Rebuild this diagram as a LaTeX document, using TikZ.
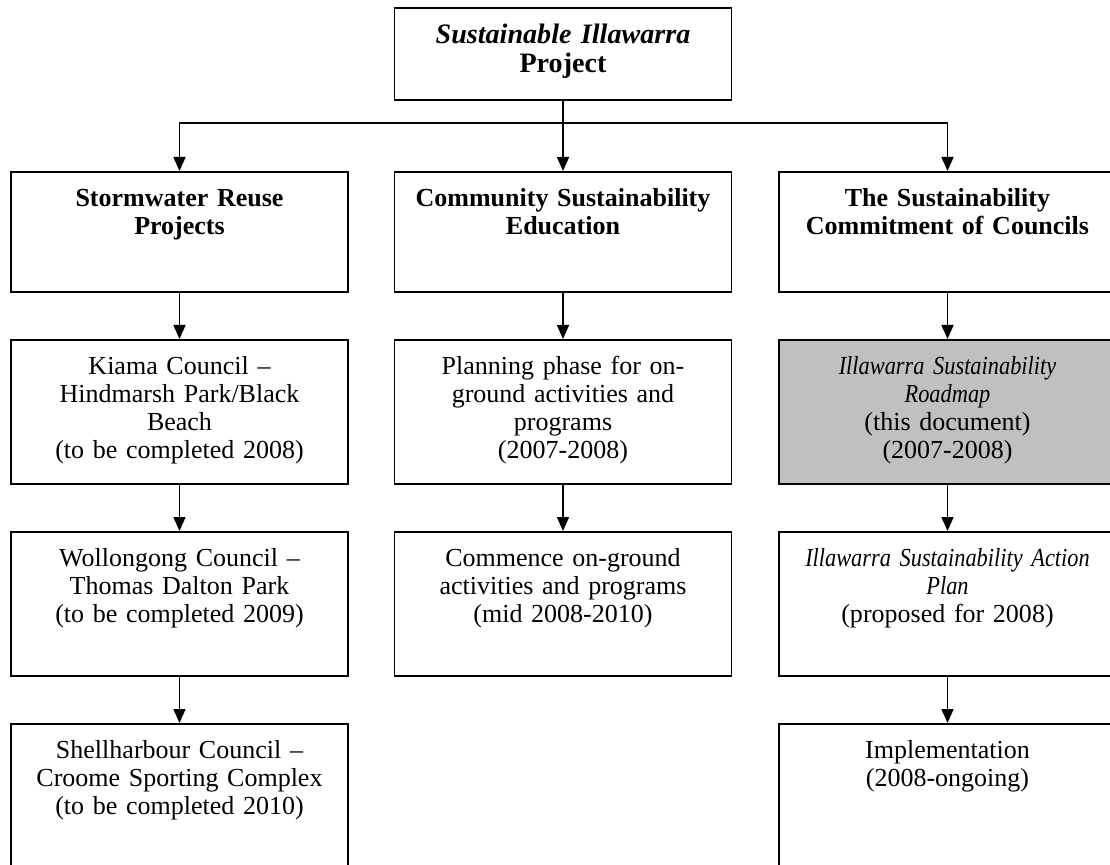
\documentclass[tikz,border=0pt]{standalone}
\usepackage{fontspec}
\setmainfont{Liberation Serif}
\newfontfamily\narrowserif{Liberation Serif}[FakeStretch=0.86]
\usetikzlibrary{arrows.meta}
\definecolor{roadmapgrey}{HTML}{C0C0C0}

\begin{document}
\begin{tikzpicture}[
               box_style/.style={rectangle,draw=black,line width=0.9pt,fill=white,inner sep=0pt,
                                 text width=6.74cm,align=center,anchor=north,
                                 font=\fontsize{14.8}{15.9}\selectfont,text height=0.7cm},
               short_box/.style={box_style,text depth=1.7cm},
               head_box/.style={short_box,font=\fontsize{14.8}{15.9}\selectfont\bfseries},
               tall_box/.style={box_style,text depth=2.18cm},
               end_box/.style={box_style,text depth=2.4cm},
               box_style_selected/.style={tall_box,fill=roadmapgrey},
               edge_style/.style={draw=black,line width=0.9pt,-{Triangle[width=0.24cm,length=0.28cm]}}]
                \useasboundingbox (0,0) rectangle (22.2,-17.3);

                % top of the tree
                \node[box_style,text height=0.72cm,text depth=1.12cm,
                      font=\fontsize{16}{16.6}\selectfont\bfseries] (top) at (11.26,-0.14)
                      {\textit{Sustainable Illawarra}\\Project};
                \coordinate (split) at (11.26,-2.46);

                % first row
                \node[head_box] (storm) at (3.59,-3.42) {Stormwater Reuse\\Projects};
                \node[head_box] (comm) at (11.26,-3.42) {Community Sustainability\\Education};
                \node[head_box] (commit) at (18.95,-3.42) {The Sustainability\\Commitment of Councils};

                % second row
                \node[tall_box] (kiama) at (3.59,-6.78) {Kiama Council –\\Hindmarsh Park/Black\\Beach\\(to be completed 2008)};
                \node[tall_box] (planning) at (11.26,-6.78) {Planning phase for on-\\ground activities and\\programs\\(2007-2008)};
                \node[box_style_selected] (roadmap) at (18.95,-6.78)
                      {{\narrowserif\itshape Illawarra Sustainability}\\{\narrowserif\itshape Roadmap}\\(this document)\\(2007-2008)};

                % third row
                \node[tall_box] (wollongong) at (3.59,-10.62) {Wollongong Council –\\Thomas Dalton Park\\(to be completed 2009)};
                \node[tall_box] (commence) at (11.26,-10.62) {Commence on-ground\\activities and programs\\(mid 2008-2010)};
                \node[tall_box] (actionplan) at (18.95,-10.62)
                      {{\narrowserif\itshape Illawarra Sustainability Action}\\{\narrowserif\itshape Plan}\\(proposed for 2008)};

                % fourth row
                \node[end_box] (shellharbour) at (3.59,-14.46) {Shellharbour Council –\\Croome Sporting Complex\\(to be completed 2010)};
                \node[end_box] (implement) at (18.95,-14.46) {Implementation\\(2008-ongoing)};

                \draw[edge_style]  (top) edge (comm);
                \draw[edge_style]  (split) -| (storm);
                \draw[edge_style]  (split) -| (commit);
                \draw[edge_style]  (storm) edge (kiama);
                \draw[edge_style]  (kiama) edge (wollongong);
                \draw[edge_style]  (wollongong) edge (shellharbour);
                \draw[edge_style]  (comm) edge (planning);
                \draw[edge_style]  (planning) edge (commence);
                \draw[edge_style]  (commit) edge (roadmap);
                \draw[edge_style]  (roadmap) edge (actionplan);
                \draw[edge_style]  (actionplan) edge (implement);
            \end{tikzpicture}
\end{document}
